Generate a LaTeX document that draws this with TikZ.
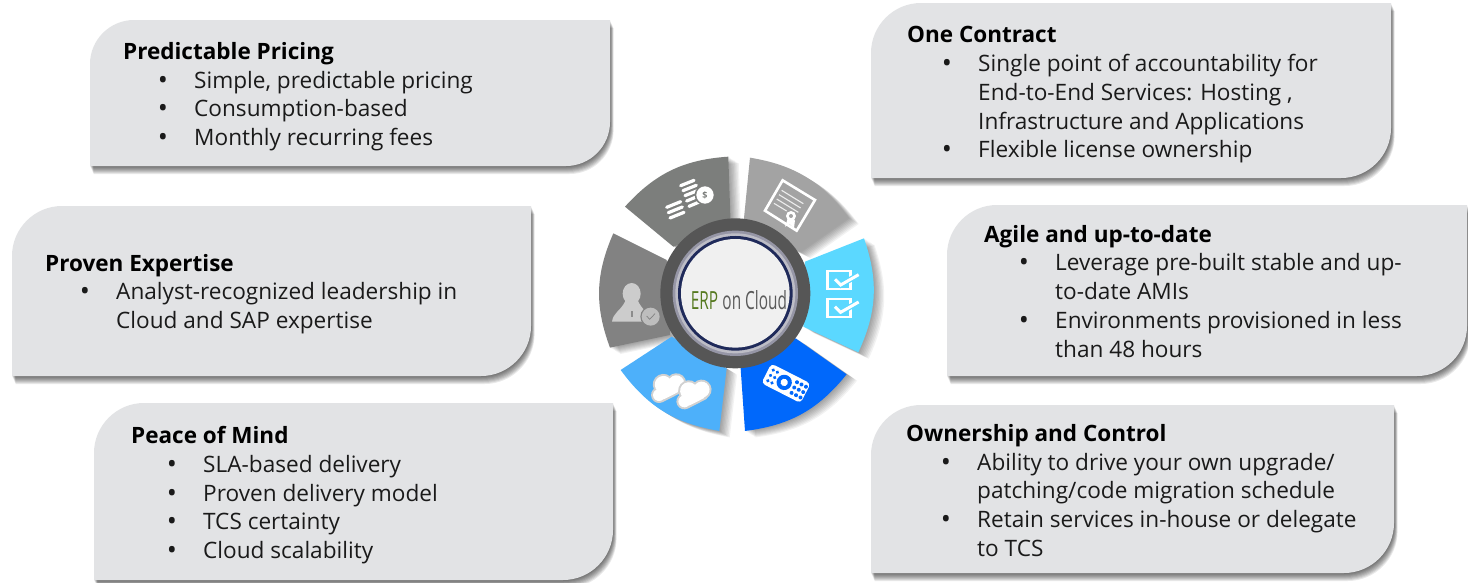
\documentclass[tikz,border=0pt]{standalone}
\usepackage{fontspec}
\usepackage{graphicx}
\setmainfont{Open Sans}
\definecolor{cardfill}{HTML}{E2E3E5}
\definecolor{ink}{HTML}{1A1A1A}
\definecolor{secTL}{HTML}{7C7E7C}
\definecolor{secTR}{HTML}{A3A3A3}
\definecolor{secCY}{HTML}{5BD8FF}
\definecolor{secBL}{HTML}{0068FB}
\definecolor{secLB}{HTML}{4DB0FA}
\definecolor{secLG}{HTML}{828282}
\definecolor{ringdark}{HTML}{565656}
\definecolor{navy}{HTML}{1F2A5A}
\tikzset{
  txt/.style={anchor=base west,inner sep=0pt,text=ink,font=\fontsize{22.6}{27}\selectfont},
  ttl/.style={txt,font=\fontsize{22.5}{27}\selectfont\bfseries,text=black},
  blt/.style={anchor=base,inner sep=0pt,text=ink,font=\fontsize{27}{27}\selectfont},
  wln/.style={draw=white,line width=3.2pt,line cap=round,line join=round},
}
\newcommand\cardpath[5]{(#1+#5,#2) -- (#3,#2) -- (#3,#4-#5) .. controls (#3,#4-.45*#5) and (#3-.45*#5,#4) .. (#3-#5,#4) -- (#1,#4) -- (#1,#2+#5) .. controls (#1,#2+.45*#5) and (#1+.45*#5,#2) .. (#1+#5,#2) -- cycle}
\newcommand\card[5]{%
  \foreach \k in {1,...,8}{\fill[black,opacity=.085,shift={(\k*.45pt,-\k*1pt)}] \cardpath{#1}{#2}{#3}{#4}{#5};}
  \fill[cardfill] \cardpath{#1}{#2}{#3}{#4}{#5};}
\newcommand\sector[5]{%
  \foreach \k in {1,...,8}{\fill[black,opacity=.05,shift={(\k*1.3pt,-\k*.8pt)}] #1 to[bend left=22] #2 -- #3 -- #4 -- cycle;}
  \fill[#5] #1 to[bend left=22] #2 -- #3 -- #4 -- cycle;}
\newcommand\cloudicon[3]{%
  \begin{scope}[shift={(#1,#2)},rotate=#3]
    \foreach \e/\c in {6/black!18,0/white}{
      \fill[\c] (-8,-10) circle[radius=26+\e];
      \fill[\c] (-34,12) circle[radius=18+\e];
      \fill[\c] (28,4) circle[radius=24+\e];
      \fill[\c,rounded corners=3pt] (-34-\e,6) rectangle (30+\e,30+\e);}
  \end{scope}}
\begin{document}
\begin{tikzpicture}[x=1pt,y=-1pt]
\useasboundingbox (0,0) rectangle (1468,582);
\fill[white] (0,0) rectangle (1468,582);
\card{90}{20}{610}{166}{44}
\card{871}{3}{1391}{178}{50}
\card{12}{206}{531}{376}{50}
\card{947}{205}{1467}{376}{50}
\card{94}{403}{613}{580}{50}
\card{871}{405}{1394}{573}{50}
% texts
\node[ttl] (pp) at (123,59) {Predictable Pricing};
\node[blt] (pp1b) at (163,89) {•}; \node[txt] (pp1) at (194,88) {Simple, predictable pricing};
\node[blt] (pp2b) at (163,117) {•}; \node[txt] (pp2) at (194,116) {Consumption-based};
\node[blt] (pp3b) at (163,146) {•}; \node[txt] (pp3) at (194,145) {Monthly recurring fees};
\node[ttl] (oc) at (907,42) {One Contract};
\node[blt] (oc1b) at (947,72) {•}; \node[txt] (oc1) at (978,71) {Single point of accountability for};
\node[txt] (oc2) at (978,100) {End-to-End Services: Hosting ,};
\node[txt] (oc3) at (978,129) {Infrastructure and Applications};
\node[blt] (oc4b) at (947,158) {•}; \node[txt] (oc4) at (978,157) {Flexible license ownership};
\node[ttl] (pe) at (45,271) {Proven Expertise};
\node[blt] (pe1b) at (85,300) {•}; \node[txt] (pe1) at (116,299) {Analyst-recognized leadership in};
\node[txt] (pe2) at (116,328) {Cloud and SAP expertise};
\node[ttl] (au) at (984,242) {Agile and up-to-date};
\node[blt] (au1b) at (1024,271) {•}; \node[txt] (au1) at (1055,270) {Leverage pre-built stable and up-};
\node[txt] (au2) at (1055,299) {to-date AMIs};
\node[blt] (au3b) at (1024,329) {•}; \node[txt] (au3) at (1055,328) {Environments provisioned in less};
\node[txt] (au4) at (1055,357) {than 48 hours};
\node[ttl] (pm) at (131,443) {Peace of Mind};
\node[blt] (pm1b) at (172,473) {•}; \node[txt] (pm1) at (203,472) {SLA-based delivery};
\node[blt] (pm2b) at (172,502) {•}; \node[txt] (pm2) at (203,501) {Proven delivery model};
\node[blt] (pm3b) at (172,530) {•}; \node[txt] (pm3) at (203,529) {TCS certainty};
\node[blt] (pm4b) at (172,559) {•}; \node[txt] (pm4) at (203,558) {Cloud scalability};
\node[ttl] (ow) at (906,441) {Ownership and Control};
\node[blt] (ow1b) at (946,471) {•}; \node[txt] (ow1) at (977,470) {Ability to drive your own upgrade/};
\node[txt] (ow2) at (977,498) {patching/code migration schedule};
\node[blt] (ow3b) at (946,528) {•}; \node[txt] (ow3) at (977,527) {Retain services in-house or delegate};
\node[txt] (ow4) at (977,556) {to TCS};
% wheel, in coordinates of a 3x crop with origin (590,145)
\begin{scope}[shift={(590,145)},x=.3333pt,y=-.3333pt]
\sector{(60,608)}{(70,265)}{(230,345)}{(240,570)}{secLG}
\sector{(105,185)}{(415,35)}{(422,240)}{(250,305)}{secTL}
\sector{(480,38)}{(775,218)}{(630,320)}{(460,240)}{secTR}
\sector{(822,280)}{(805,622)}{(640,545)}{(645,350)}{secCY}
\sector{(388,858)}{(92,675)}{(245,575)}{(410,670)}{secLB}
\sector{(770,688)}{(465,858)}{(452,670)}{(617,580)}{secBL}
% hub
\fill[ringdark] (436,445) circle[radius=225];
\fill[black!15!blue!10!gray!75] (436,445) circle[radius=188];
\fill[black!5!blue!5!white!78!black] (436,445) circle[radius=180];
\fill[navy] (436,445) circle[radius=172];
\fill[white!94!black] (436,445) circle[radius=163];
\node[anchor=base west,inner sep=0pt,font=\fontsize{25}{27}\selectfont] (erp) at (302,493)
  {\scalebox{.615}[1]{\textcolor[HTML]{55791F}{ERP}\hspace{.28em}\textcolor[HTML]{5A5A5A}{on Cloud}}};
% coins
\foreach \a/\b/\c/\d in {272/122/312/106,279/137/319/121,285/152/325/136,290/168/328/152,297/184/335/168,230/187/272/170,235/203/277/186,240/219/282/202}
  \draw[wln] (\a,\b) -- (\c,\d);
\fill[secTL] (345,150) circle[radius=31];
\fill[white] (345,150) circle[radius=26];
\node[inner sep=0pt,text=secTL,font=\fontsize{9}{9}\selectfont\bfseries] (coin) at (345,150) {\$};
% certificate
\draw[white,line width=2.6pt,line join=miter] (578,106) -- (675,165) -- (620,257) -- (525,197) -- cycle;
\foreach \a/\b/\c/\d in {575/136/640/176,567/149/632/189,560/162/625/202,552/175/590/198}
  \draw[white!80!secTR,line width=1.1pt] (\a,\b) -- (\c,\d);
\fill[white] (593,222) -- (585,245) -- (600,238) -- (612,250) -- (615,226) -- cycle;
\fill[white] (603,213) circle[radius=15];
\fill[secTR] (603,213) circle[radius=6];
% check boxes
\draw[white,line width=2.6pt] (712,378) rectangle (782,432);
\draw[white,line width=2.6pt] (712,462) rectangle (782,516);
\draw[secCY,line width=5.5pt] (735,403) -- (752,420) -- (808,388);
\draw[secCY,line width=5.5pt] (735,485) -- (752,502) -- (808,470);
\draw[white,line width=3pt] (735,403) -- (752,420) -- (806,389);
\draw[white,line width=3pt] (735,485) -- (752,502) -- (806,471);
% remote
\begin{scope}[shift={(588,715)},rotate=-27]
  \fill[white,rounded corners=4pt] (-66,-33) rectangle (66,33);
  \fill[secBL] (-6,0) circle[radius=23];
  \fill[white] (-6,0) circle[radius=11];
  \foreach \p in {28,43,58}\foreach \q in {-18,0,18}\fill[secBL] (\p,\q) circle[radius=6];
  \foreach \p in {-52,-38}\foreach \q in {-18,0,18}\fill[secBL] (\p,\q) circle[radius=5.5];
\end{scope}
% clouds
\cloudicon{232}{724}{27}
\cloudicon{308}{743}{27}
% person
\fill[black!20] (125,446) ellipse[x radius=27,y radius=32];
\fill[black!20] (66,530) .. controls (70,502) and (92,498) .. (106,468) -- (144,468)
  .. controls (158,498) and (178,502) .. (180,530) -- cycle;
\fill[black!45] (122,497) rectangle (128,515);
\fill[secLG] (182,515) circle[radius=31];
\fill[black!26] (182,515) circle[radius=27];
\draw[black!50,line width=.7pt] (170,513) -- (179,523) -- (195,506);
\end{scope}
\end{tikzpicture}
\end{document}
